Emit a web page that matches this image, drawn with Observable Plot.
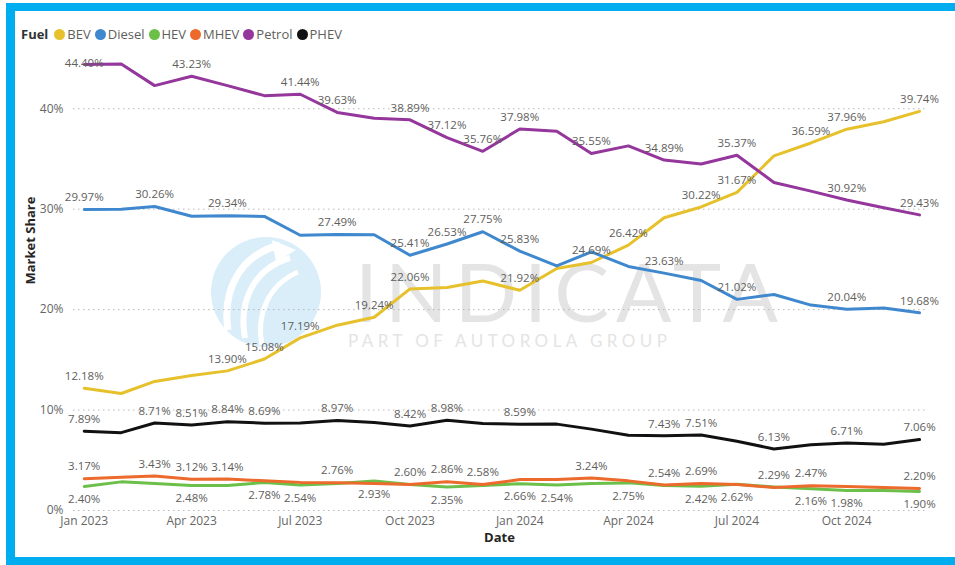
<!DOCTYPE html>
<html><head><meta charset="utf-8">
<script src="https://cdn.jsdelivr.net/npm/d3@7"></script>
<script src="https://cdn.jsdelivr.net/npm/@observablehq/plot@0.6"></script>
<style>
html,body{margin:0;padding:0;background:#fff;}
#wrap{position:relative;width:955px;height:565px;overflow:hidden;font-family:"Open Sans","Noto Sans",sans-serif;}
.bar{position:absolute;background:#00ADEF;}
#legend{position:absolute;left:21px;top:24px;height:20px;display:flex;align-items:center;font-size:13px;color:#605E5C;white-space:nowrap;}
#legend .ttl{font-weight:bold;color:#333;margin-right:6px;font-size:13px;}
#legend .it{display:flex;align-items:center;margin-right:4px;}
#legend .dot{width:11px;height:11px;border-radius:50%;margin-right:2px;}
#wm,#chart{position:absolute;left:0;top:0;}
</style></head>
<body><div id="wrap">
<div class="bar" style="left:6px;top:3px;width:949px;height:8px"></div>
<div class="bar" style="left:6px;top:3px;width:9px;height:562px"></div>
<div class="bar" style="left:6px;top:557px;width:949px;height:8px"></div>
<svg id="wm" width="955" height="565">
  <circle cx="266" cy="292" r="55" fill="#D9EEF9"/>
  <path d="M228,330 C222,290 240,255 280,245" fill="none" stroke="#fff" stroke-width="7"/>
  <path d="M245,338 C238,300 255,268 290,258" fill="none" stroke="#fff" stroke-width="6"/>
  <path d="M262,345 C256,315 268,285 298,272" fill="none" stroke="#fff" stroke-width="5"/>
  <path d="M272,240 L296,250 L276,262 Z" fill="#fff"/>
  <text x="355" y="322" font-family="Lato, sans-serif" font-weight="400" font-size="82" fill="#E4E4E4" textLength="423" lengthAdjust="spacing">INDICATA</text>
  <text x="348" y="347" font-family="Lato, sans-serif" font-weight="400" font-size="17" fill="#E4E4E4" textLength="319" lengthAdjust="spacing">PART OF AUTOROLA GROUP</text>
</svg>
<div id="legend"></div>
<div id="chart"></div>
</div>
<script>
const months = ["2023-01-01","2023-02-01","2023-03-01","2023-04-01","2023-05-01","2023-06-01",
  "2023-07-01","2023-08-01","2023-09-01","2023-10-01","2023-11-01","2023-12-01",
  "2024-01-01","2024-02-01","2024-03-01","2024-04-01","2024-05-01","2024-06-01",
  "2024-07-01","2024-08-01","2024-09-01","2024-10-01","2024-11-01","2024-12-01"];
const fuels = ["BEV","Diesel","HEV","MHEV","Petrol","PHEV"];
const bev    = [12.18,11.65,12.85,13.45,13.90,15.08,17.19,18.45,19.24,22.06,22.20,22.85,21.92,24.10,24.69,26.42,29.15,30.22,31.67,35.30,36.59,37.96,38.70,39.74];
const diesel = [29.97,30.00,30.26,29.30,29.34,29.28,27.40,27.49,27.45,25.41,26.53,27.75,25.83,24.35,25.75,24.30,23.63,22.90,21.02,21.50,20.45,20.04,20.15,19.68];
const hev    = [2.40,2.85,2.70,2.48,2.50,2.78,2.54,2.70,2.93,2.60,2.35,2.50,2.66,2.54,2.70,2.75,2.50,2.42,2.62,2.35,2.16,1.98,2.00,1.90];
const mhev   = [3.17,3.30,3.43,3.12,3.14,2.95,2.80,2.76,2.70,2.60,2.86,2.58,3.08,3.08,3.24,2.95,2.54,2.69,2.60,2.29,2.47,2.40,2.30,2.20];
const petrol = [44.40,44.45,42.30,43.23,42.30,41.30,41.44,39.63,39.05,38.89,37.12,35.76,37.98,37.75,35.55,36.30,34.89,34.50,35.37,32.65,31.80,30.92,30.15,29.43];
const phev   = [7.89,7.75,8.71,8.51,8.84,8.69,8.72,8.97,8.75,8.42,8.98,8.65,8.59,8.60,8.10,7.50,7.43,7.51,6.90,6.13,6.55,6.71,6.60,7.06];
// which months carry a data label
const bevLabels    = [0,4,5,6,8,9,12,14,15,17,18,20,21,23];
const dieselLabels = [0,2,4,7,9,10,11,12,16,18,21,23];
const hevLabels    = [0,3,5,6,8,10,12,13,15,17,18,20,21,23];
const mhevLabels   = [0,2,3,4,7,9,10,11,14,16,17,19,20,23];
const petrolLabels = [0,3,6,7,9,10,11,12,14,16,18,21,23];
const phevLabels   = [0,2,3,4,5,7,9,10,12,16,17,19,21,23];
const yTicks = [0,10,20,30,40];
const xTicks = ["2023-01-01","2023-04-01","2023-07-01","2023-10-01","2024-01-01","2024-04-01","2024-07-01","2024-10-01"];

const colors = ["#E6C12C","#3F88CE","#6CC04A","#EB6A2C","#94369B","#111111"];
const seriesValues = [bev, diesel, hev, mhev, petrol, phev];
const seriesLabels = [bevLabels, dieselLabels, hevLabels, mhevLabels, petrolLabels, phevLabels];

const rows = [], labelsAbove = [], labelsBelow = [];
fuels.forEach((f, s) => {
  seriesValues[s].forEach((v, i) => rows.push({date: new Date(months[i]), fuel: f, value: v}));
  seriesLabels[s].forEach(i => {
    const r = {date: new Date(months[i]), fuel: f, value: seriesValues[s][i], text: seriesValues[s][i].toFixed(2) + "%"};
    (f === "HEV" ? labelsBelow : labelsAbove).push(r);
  });
});

const lg = document.getElementById("legend");
lg.innerHTML = '<span class="ttl">Fuel</span>' + fuels.map((f, i) =>
  `<span class="it"><span class="dot" style="background:${colors[i]}"></span>${f}</span>`).join("");

// labels are kept inside the plot area (clamped near the top like the original)
const yTop = 43.3;
const chart = Plot.plot({
  width: 955, height: 565,
  marginLeft: 73, marginRight: 30, marginTop: 58, marginBottom: 55,
  x: {type: "utc", domain: [new Date("2022-12-23"), new Date("2024-12-06")]},
  y: {domain: [0, 45]},
  color: {domain: fuels, range: colors},
  style: {background: "transparent", fontFamily: "'Open Sans','Noto Sans',sans-serif"},
  marks: [
    Plot.gridY(yTicks, {stroke: "#b8b8b8", strokeOpacity: 1, strokeDasharray: "1.5,3.5"}),
    Plot.axisY(yTicks, {tickFormat: d => d + "%", tickSize: 0, tickPadding: 10, fontSize: 12, fill: "#666", label: null}),
    Plot.axisX(xTicks.map(d => new Date(d)), {tickFormat: d3.utcFormat("%b %Y"), tickSize: 0, tickPadding: 6, fontSize: 12, fill: "#666", label: null}),
    Plot.text(["Market Share"], {frameAnchor: "left", rotate: -90, dx: -43, fontWeight: "bold", fontSize: 13, fill: "#252423"}),
    Plot.text(["Date"], {frameAnchor: "bottom", dy: 31, fontWeight: "bold", fontSize: 13, fill: "#252423"}),
    Plot.line(rows, {x: "date", y: "value", z: "fuel", stroke: "fuel", strokeWidth: 3, strokeLinejoin: "round"}),
    Plot.text(labelsAbove, {x: "date", y: d => Math.min(d.value, yTop), text: "text", dy: -12, fontSize: 11.5, fill: "#605E5C"}),
    Plot.text(labelsBelow, {x: "date", y: "value", text: "text", dy: 13, fontSize: 11.5, fill: "#605E5C"})
  ]
});
document.getElementById("chart").appendChild(chart);
</script>
</body></html>
